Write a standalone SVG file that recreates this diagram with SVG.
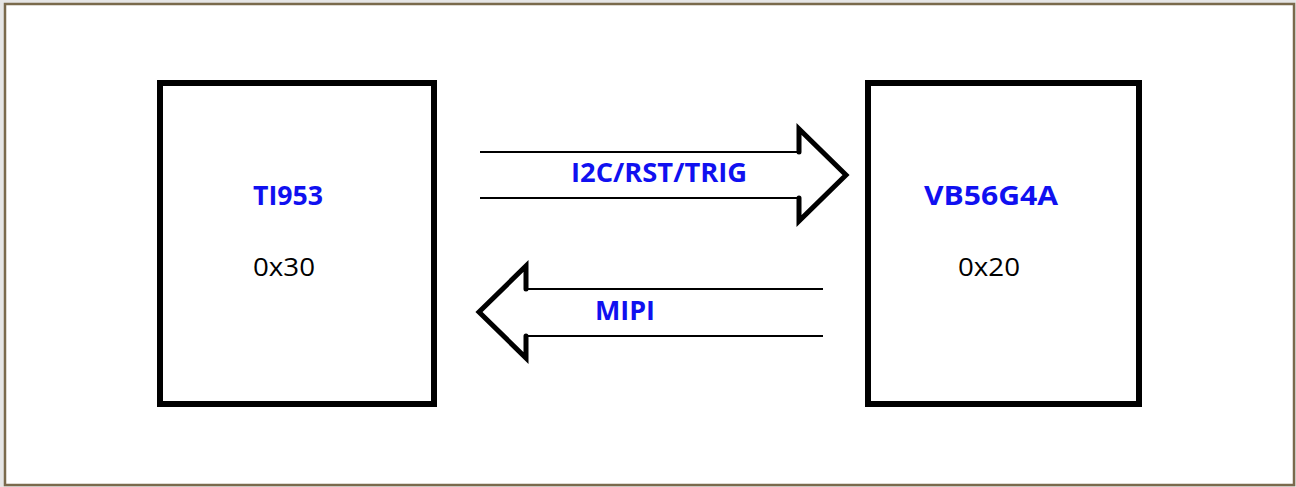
<svg xmlns="http://www.w3.org/2000/svg" width="1296" height="487" viewBox="0 0 1296 487">
<style>
.box{fill:#fff;stroke:#000;stroke-width:6}
.line{stroke:#000;stroke-width:2;fill:none}
.head{stroke:#000;stroke-width:5;fill:none;stroke-linecap:round;stroke-linejoin:miter}
.lbl{font-family:"Open Sans","Liberation Sans",sans-serif;font-weight:bold;font-size:26px;fill:#1010f0}
.addr{font-family:"Open Sans","Liberation Sans",sans-serif;font-size:26px;fill:#000}
</style>
<rect x="0" y="0" width="1296" height="487" fill="#e6e6e6"/>
<rect x="5" y="4" width="1289" height="481" fill="#fff" stroke="#7a6a4c" stroke-width="2.5"/>
<g id="ti953">
<rect class="box" x="160" y="83" width="274" height="321"/>
<text class="lbl" x="288" y="205" text-anchor="middle" textLength="70" lengthAdjust="spacingAndGlyphs">TI953</text>
<text class="addr" x="284" y="276" text-anchor="middle" textLength="62" lengthAdjust="spacingAndGlyphs">0x30</text>
</g>
<g id="vb56g4a">
<rect class="box" x="868" y="83" width="271" height="321"/>
<text class="lbl" x="991" y="205" text-anchor="middle" textLength="134" lengthAdjust="spacingAndGlyphs">VB56G4A</text>
<text class="addr" x="989" y="276" text-anchor="middle" textLength="62" lengthAdjust="spacingAndGlyphs">0x20</text>
</g>
<g id="connectors">
<line class="line" x1="480" y1="152" x2="799" y2="152"/>
<line class="line" x1="480" y1="198" x2="799" y2="198"/>
<polyline class="head" points="799,152 799,129 846,175 799,221 799,198"/>
<text class="lbl" x="659" y="182" text-anchor="middle" textLength="176" lengthAdjust="spacingAndGlyphs">I2C/RST/TRIG</text>
<line class="line" x1="526" y1="289" x2="823" y2="289"/>
<line class="line" x1="526" y1="336" x2="823" y2="336"/>
<polyline class="head" points="526,289 526,266 479,312 526,358 526,336"/>
<text class="lbl" x="625" y="320" text-anchor="middle" textLength="60" lengthAdjust="spacingAndGlyphs">MIPI</text>
</g>
</svg>
